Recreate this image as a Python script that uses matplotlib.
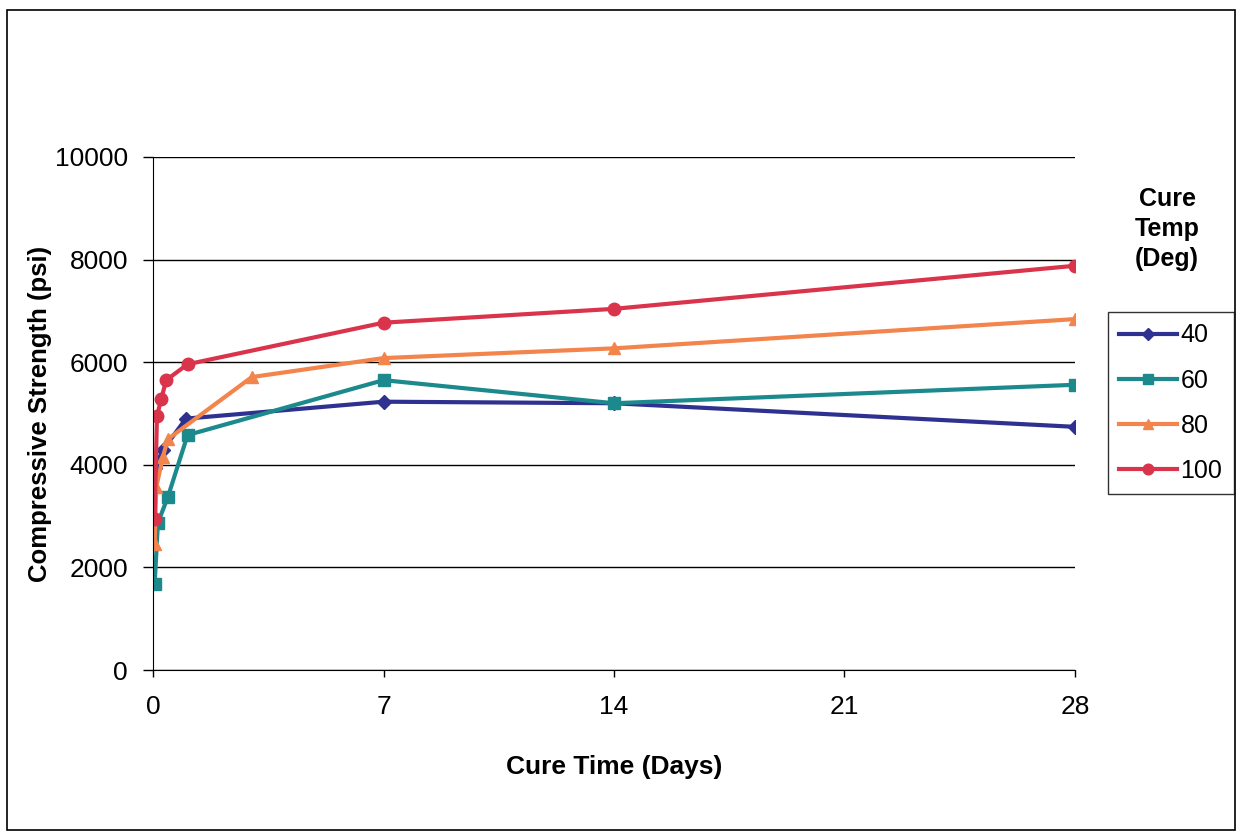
import matplotlib.pyplot as plt
from matplotlib.patches import Rectangle

plt.rcParams['font.family'] = ['Liberation Sans', 'DejaVu Sans']

# cure time (days) and compressive strength (psi) per cure temperature
t40 = [0.05, 0.3, 1.0, 7, 14, 28]
s40 = [3940, 4290, 4900, 5230, 5200, 4740]

t60 = [0.05, 0.15, 0.45, 1.05, 7, 14, 28]
s60 = [1680, 2870, 3370, 4580, 5650, 5200, 5560]

t80 = [0.05, 0.1, 0.3, 0.45, 3, 7, 14, 28]
s80 = [2460, 3570, 4150, 4500, 5710, 6080, 6270, 6840]

t100 = [0.05, 0.12, 0.25, 0.4, 1.05, 7, 14, 28]
s100 = [2940, 4950, 5280, 5650, 5960, 6770, 7040, 7880]

series = [
    ("40", t40, s40, "#2E3190", "D", 7),
    ("60", t60, s60, "#1C8A8C", "s", 8),
    ("80", t80, s80, "#F2844C", "^", 8),
    ("100", t100, s100, "#D9344C", "o", 9),
]

fig = plt.figure(figsize=(12.42, 8.33), dpi=100)
ax = fig.add_axes([153 / 1242, 1 - 670 / 833, (1075 - 153) / 1242, (670 - 157) / 833])

for name, t, s, color, marker, ms in series:
    ax.plot(t, s, color=color, marker=marker, markersize=ms, linewidth=3, label=name)

ax.set_xlim(0, 28)
ax.set_ylim(0, 10000)
ax.set_xticks([0, 7, 14, 21, 28])
ax.set_yticks(range(0, 10001, 2000))
ax.yaxis.grid(True, color="black", linewidth=1)
ax.set_axisbelow(True)
for side in ["top", "right"]:
    ax.spines[side].set_visible(False)
ax.tick_params(axis="x", labelsize=19, length=5, width=1, pad=13)
ax.tick_params(axis="y", labelsize=19, length=7, width=1, pad=11)
ax.set_xlabel("Cure Time (Days)", fontsize=19, fontweight="bold", labelpad=26)
ax.set_ylabel("Compressive Strength (psi)", fontsize=18.5, fontweight="bold", labelpad=2)

leg = fig.legend(loc="upper left", bbox_to_anchor=(1108 / 1242, 1 - 312 / 833),
                 fontsize=18, frameon=True, fancybox=False, edgecolor="black",
                 handlelength=2.3, handletextpad=0.15, labelspacing=0.85,
                 borderpad=0.45, borderaxespad=0, markerscale=0.85)
leg.get_frame().set_linewidth(1)

fig.text(1167 / 1242, 1 - 229 / 833, "Cure\nTemp\n(Deg)", ha="center", va="center",
         fontsize=18, fontweight="bold", linespacing=1.3)

# outer border of the chart area
fig.patches.append(Rectangle((7 / 1242, 3 / 833), 1228 / 1242, 820 / 833,
                             transform=fig.transFigure, fill=False,
                             edgecolor="black", linewidth=1.2))

fig.savefig("out.png", dpi=100)
